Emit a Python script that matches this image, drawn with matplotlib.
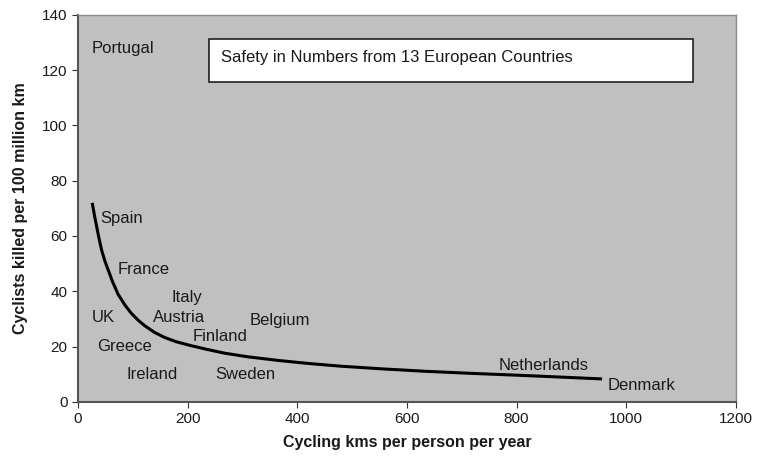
import numpy as np
import matplotlib
matplotlib.use("Agg")
import matplotlib.pyplot as plt
from matplotlib.patches import Rectangle

plt.rcParams['font.family'] = ['Liberation Sans', 'DejaVu Sans']

# trend curve
curve_x = [26, 30, 34, 38, 43, 49, 55, 63, 73, 85, 97, 110, 122, 140, 158, 180, 207,
           235, 268, 310, 365, 420, 480, 550, 630, 720, 820, 900, 956]
curve_y = [72, 67.5, 63.5, 59.5, 55, 51, 47.8, 43.5, 39.0, 35.2, 32.1, 29.5, 27.5, 25.1, 23.3, 21.7, 20.3,
           19.0, 17.6, 16.3, 15.0, 13.9, 12.9, 12.0, 11.1, 10.3, 9.5, 8.8, 8.3]

# country labels (left edge, vertical centre)
countries = ['Portugal', 'Spain', 'France', 'Italy', 'UK', 'Austria', 'Belgium',
             'Finland', 'Greece', 'Ireland', 'Sweden', 'Netherlands', 'Denmark']
label_x = [25, 40, 73, 171, 25, 137, 314, 210, 35, 88, 250, 768, 967]
label_y = [127.7, 66.5, 48, 37.6, 30.4, 30.4, 29.3, 23.5, 19.9, 9.8, 9.8, 13, 5.8]

title = 'Safety in Numbers from 13 European Countries'
xticks = [0, 200, 400, 600, 800, 1000, 1200]
yticks = [0, 20, 40, 60, 80, 100, 120, 140]

fig = plt.figure(figsize=(7.57, 4.63), dpi=100)
ax = fig.add_axes([0.103, 0.132, 0.869, 0.836])
ax.set_facecolor('#c0c0c0')

ax.plot(curve_x, curve_y, color='black', lw=2.2, solid_capstyle='butt', solid_joinstyle='round')

for name, x, y in zip(countries, label_x, label_y):
    ax.text(x, y, name, fontsize=12, ha='left', va='center', color='#1a1a1a')

ax.add_patch(Rectangle((239, 115.8), 883, 15.5, facecolor='white',
                       edgecolor='#202020', lw=1.2, zorder=3))
ax.text(261, 124.6, title, fontsize=12, ha='left', va='center', color='#1a1a1a', zorder=4)

ax.set_xlim(0, 1200)
ax.set_ylim(0, 140)
ax.set_xticks(xticks)
ax.set_yticks(yticks)
ax.tick_params(direction='out', length=4, labelsize=11, colors='#333333', labelcolor='#1a1a1a')

for side in ['top', 'right']:
    ax.spines[side].set_color('#8a8a8a')
    ax.spines[side].set_linewidth(1.0)
for side in ['left', 'bottom']:
    ax.spines[side].set_color('#555555')
    ax.spines[side].set_linewidth(1.5)

ax.set_xlabel('Cycling kms per person per year', fontsize=11.5, fontweight='bold',
              color='#1a1a1a', labelpad=6)
ax.set_ylabel('Cyclists killed per 100 million km', fontsize=11.5, fontweight='bold',
              color='#1a1a1a', labelpad=10)

fig.savefig('out.png', dpi=100)
